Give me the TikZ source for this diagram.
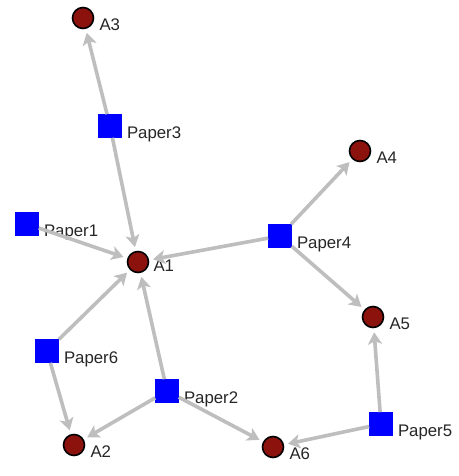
\documentclass[tikz,border=0pt]{standalone}
\usepackage{fontspec}
\setmainfont{Liberation Sans}
\usetikzlibrary{arrows.meta}
\definecolor{edgegray}{RGB}{190,190,190}
\definecolor{authred}{RGB}{140,18,14}
\tikzset{
  paper/.style={rectangle, draw=blue, fill=blue, line width=0.6pt, minimum size=23pt, inner sep=0pt},
  author/.style={circle, draw=black, fill=authred, line width=1.6pt, minimum size=21pt, inner sep=0pt},
  lbl/.style={anchor=base west, inner sep=0pt, xshift=5pt, yshift=-12.5pt, font=\fontsize{16.8}{18}\selectfont, text=black!85},
  edge/.style={draw=edgegray, line width=3.6pt, -{Stealth[length=12pt, width=14pt, inset=3pt]}, shorten >=4pt}
}
\begin{document}
\begin{tikzpicture}[x=1pt,y=-1pt]
\useasboundingbox (0,0) rectangle (458,476);
\node[author, label={[lbl]east:A3}] (A3) at (83,18) {};
\node[paper, label={[lbl]east:Paper3}] (P3) at (110,126) {};
\node[paper, label={[lbl]east:Paper1}] (P1) at (27,224) {};
\node[author, label={[lbl, xshift=-1pt, yshift=3pt]east:A1}] (A1) at (138,262) {};
\node[author, label={[lbl]east:A4}] (A4) at (360,151) {};
\node[paper, label={[lbl]east:Paper4}] (P4) at (280,236) {};
\node[author, label={[lbl]east:A5}] (A5) at (373,317) {};
\node[paper, label={[lbl]east:Paper6}] (P6) at (47,351) {};
\node[paper, label={[lbl]east:Paper2}] (P2) at (167,391) {};
\node[author, label={[lbl]east:A2}] (A2) at (74,445) {};
\node[author, label={[lbl]east:A6}] (A6) at (273,447) {};
\node[paper, label={[lbl]east:Paper5}] (P5) at (381,424) {};
\draw[edge] (P3) -- (A3);
\draw[edge] (P3) -- (A1);
\draw[edge] (P1) -- (A1);
\draw[edge] (P4) -- (A1);
\draw[edge] (P4) -- (A4);
\draw[edge] (P4) -- (A5);
\draw[edge] (P6) -- (A1);
\draw[edge] (P6) -- (A2);
\draw[edge] (P2) -- (A1);
\draw[edge] (P2) -- (A2);
\draw[edge] (P2) -- (A6);
\draw[edge] (P5) -- (A5);
\draw[edge] (P5) -- (A6);
\end{tikzpicture}
\end{document}
